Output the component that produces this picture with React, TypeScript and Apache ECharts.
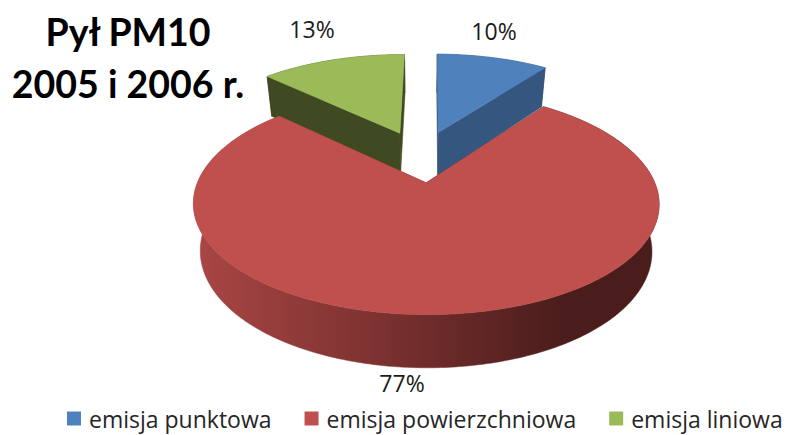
import React, { useEffect, useRef } from "react";
import * as echarts from "echarts";

const categories = ["emisja punktowa", "emisja powierzchniowa", "emisja liniowa"];
const values = [10, 77, 13];
const titleLines = ["Pył PM10", "2005 i 2006 r."];
const topColors = ["#4f81bd", "#c0504d", "#9bbb59"];
const sideColors: any[] = [
  "#35567f",
  new echarts.graphic.LinearGradient(199, 0, 653, 0, [
    { offset: 0, color: "#a84644" },
    { offset: 0.48, color: "#722d2c" },
    { offset: 0.8, color: "#4a1d1c" },
    { offset: 1, color: "#4a1d1c" },
  ], true),
  "#404a22",
];
const labelAnchors = [[494, 31], [402, 383], [312, 29]];

// projection of the tilted pie
const X0 = 421, Y0 = 156, SX = 218, AY = 99, PERSP_X = 0.18, PERSP_Y = 0.17;
const EXPLODE = 0.26, ROTATE = (0.5 * Math.PI) / 180;
const WALL = 44.5, WALL_PERSP = 0.13, WALL_SCALE = 0.97;
const project = (u: number, v: number): [number, number] => [
  X0 + (SX * u) / (1 + PERSP_X * v),
  Y0 - (AY * v) / (1 + PERSP_Y * v),
];
const lower = (u: number, v: number): [number, number] => {
  const p = project(u, v);
  return [X0 + (p[0] - X0) * WALL_SCALE, p[1] + WALL / (1 + WALL_PERSP * v)];
};

const total = values.reduce((a, b) => a + b, 0);

function sliceRender(index: number) {
  return (_params: any, api: any) => {
    const before = values.slice(0, index).reduce((a, b) => a + b, 0);
    const a0 = (before / total) * Math.PI * 2 + ROTATE;
    const a1 = a0 + (api.value(0) / total) * Math.PI * 2;
    const mid = (a0 + a1) / 2;
    const cu = EXPLODE * Math.sin(mid);
    const cv = EXPLODE * Math.cos(mid);
    const rim: [number, number][] = [];
    const n = Math.ceil(((a1 - a0) * 180) / Math.PI);
    for (let i = 0; i <= n; i++) {
      const t = a0 + ((a1 - a0) * i) / n;
      rim.push([cu + Math.sin(t), cv + Math.cos(t)]);
    }
    const arc = rim.map(([u, v]) => project(u, v));
    const arcLow = rim.map(([u, v]) => lower(u, v));
    const apex = project(cu, cv);
    const apexLow = lower(cu, cv);
    const side = sideColors[index];
    const wallStyle = { fill: side, stroke: side, lineWidth: 0.5 };
    const poly = (points: number[][], style: any) => ({ type: "polygon", shape: { points }, style });
    const last = arc.length - 1;
    return {
      type: "group",
      children: [
        poly([...arc, ...arcLow.slice().reverse()], wallStyle),
        poly([apex, arc[0], arcLow[0], apexLow], wallStyle),
        poly([apex, arc[last], arcLow[last], apexLow], wallStyle),
        poly([apex, ...arc], { fill: topColors[index], stroke: topColors[index], lineWidth: 0.5 }),
        {
          type: "text",
          x: labelAnchors[index][0],
          y: labelAnchors[index][1],
          z2: 10,
          style: {
            text: `${api.value(0)}%`,
            fill: "#1a1a1a",
            font: '23px "Open Sans"',
            align: "center",
            verticalAlign: "middle",
          },
        },
      ],
    };
  };
}

export default function App() {
  const ref = useRef<HTMLDivElement>(null);
  useEffect(() => {
    const chart = echarts.init(ref.current!, null, { renderer: "svg" });
    chart.setOption({
      animation: false,
      backgroundColor: "#ffffff",
      title: {
        text: titleLines.join("\n"),
        left: 123,
        top: 0,
        textAlign: "center",
        textStyle: { fontFamily: "Lato", fontWeight: "bold", fontSize: 37.5, lineHeight: 52, color: "#000000" },
      },
      legend: {
        data: categories,
        left: 62,
        top: 402,
        icon: "rect",
        itemWidth: 14,
        itemHeight: 14,
        itemGap: 33,
        textStyle: { fontFamily: "Open Sans", fontSize: 23, color: "#262626", padding: [0, 0, 0, 3] },
      },
      series: categories.map((name, i) => ({
        type: "custom",
        name,
        coordinateSystem: "none",
        z: i === 1 ? 3 : 2,
        itemStyle: { color: topColors[i] },
        data: [values[i]],
        renderItem: sliceRender(i),
      })),
    });
    return () => chart.dispose();
  }, []);
  return <div ref={ref} style={{ position: "absolute", left: 0, top: 0, width: 789, height: 435 }} />;
}
